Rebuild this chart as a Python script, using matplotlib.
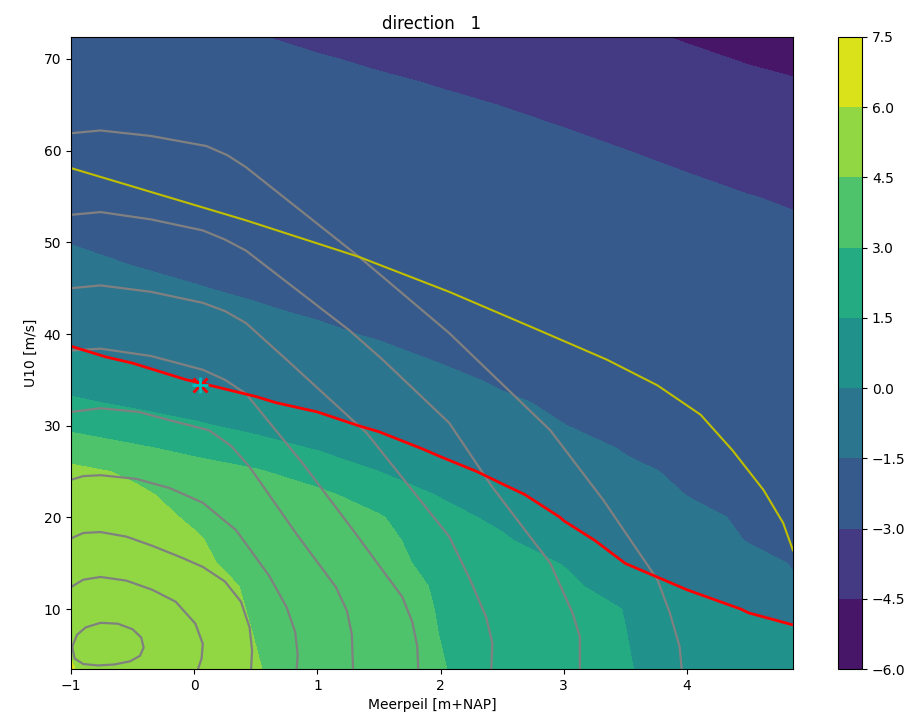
import matplotlib
matplotlib.use('Agg')
import matplotlib.pyplot as plt
import numpy as np

# grid of the filled field
x_nodes = [-1.0, -0.5, 0.0, 0.5, 1.0, 1.5, 2.0, 2.5, 3.0, 3.5, 4.0, 4.5, 4.86]
y_nodes = [3.46, 7.5, 10, 12.5, 15, 17.5, 20, 22.5, 25, 27.5, 30, 32.5, 35, 37.5,
           40, 42.5, 45, 47.5, 50, 52.5, 55, 57.5, 60, 62.5, 65, 67.5, 70, 72.4]
z_rows = [
    [6.03, 5.54, 5.04, 4.55, 4.05, 3.55, 3.05, 2.55, 2.06, 1.56, 1.10, 0.80, 0.60],
    [5.92, 5.45, 4.97, 4.47, 3.98, 3.47, 2.98, 2.50, 2.00, 1.51, 0.95, 0.50, 0.20],
    [5.80, 5.30, 4.90, 4.42, 3.93, 3.44, 2.95, 2.47, 1.98, 1.47, 0.68, -0.10, -0.45],
    [5.65, 5.15, 4.85, 4.37, 3.88, 3.40, 2.90, 2.37, 1.83, 0.80, -0.13, -0.65, -1.38],
    [5.50, 5.00, 4.70, 4.15, 3.76, 3.30, 2.74, 2.12, 1.44, -0.01, -0.50, -1.12, -1.56],
    [5.30, 4.92, 4.60, 4.00, 3.62, 3.28, 2.51, 1.74, 0.40, -0.40, -0.85, -1.56, -1.64],
    [5.20, 4.88, 4.38, 3.75, 3.47, 3.10, 2.11, 1.09, -0.07, -0.67, -1.28, -1.62, -1.73],
    [5.00, 4.75, 4.05, 3.55, 3.25, 2.45, 1.38, 0.24, -0.42, -1.01, -1.52, -1.70, -1.83],
    [4.85, 4.30, 3.55, 3.12, 2.42, 1.50, 0.40, -0.28, -0.78, -1.34, -1.63, -1.80, -1.92],
    [3.77, 3.21, 2.70, 2.11, 1.41, 0.50, -0.22, -0.65, -1.13, -1.56, -1.73, -1.90, -2.01],
    [2.69, 2.21, 1.70, 1.11, 0.36, -0.18, -0.59, -1.02, -1.49, -1.67, -1.84, -2.00, -2.10],
    [1.73, 1.27, 0.77, 0.12, -0.24, -0.57, -0.97, -1.40, -1.61, -1.78, -1.94, -2.09, -2.20],
    [0.94, 0.43, -0.06, -0.32, -0.62, -0.95, -1.34, -1.59, -1.73, -1.89, -2.05, -2.19, -2.29],
    [0.21, -0.16, -0.41, -0.69, -1.00, -1.33, -1.57, -1.70, -1.84, -2.00, -2.15, -2.29, -2.38],
    [-0.24, -0.50, -0.76, -1.06, -1.38, -1.57, -1.69, -1.82, -1.96, -2.11, -2.25, -2.39, -2.47],
    [-0.57, -0.84, -1.12, -1.43, -1.58, -1.69, -1.81, -1.94, -2.07, -2.22, -2.36, -2.49, -2.57],
    [-0.90, -1.19, -1.47, -1.60, -1.71, -1.81, -1.93, -2.06, -2.19, -2.33, -2.46, -2.58, -2.66],
    [-1.23, -1.51, -1.62, -1.73, -1.83, -1.94, -2.05, -2.18, -2.30, -2.44, -2.57, -2.68, -2.75],
    [-1.53, -1.64, -1.74, -1.85, -1.96, -2.06, -2.17, -2.29, -2.42, -2.55, -2.67, -2.78, -2.84],
    [-1.66, -1.77, -1.87, -1.98, -2.08, -2.19, -2.29, -2.41, -2.53, -2.66, -2.78, -2.88, -2.94],
    [-1.79, -1.90, -2.00, -2.10, -2.20, -2.31, -2.41, -2.53, -2.65, -2.77, -2.88, -2.98, -3.09],
    [-1.92, -2.03, -2.12, -2.23, -2.33, -2.43, -2.54, -2.65, -2.76, -2.88, -2.99, -3.22, -3.36],
    [-2.05, -2.15, -2.25, -2.35, -2.45, -2.55, -2.66, -2.77, -2.88, -2.99, -3.24, -3.49, -3.63],
    [-2.18, -2.28, -2.38, -2.48, -2.57, -2.67, -2.78, -2.89, -3.00, -3.25, -3.51, -3.76, -3.90],
    [-2.31, -2.41, -2.50, -2.60, -2.70, -2.79, -2.90, -3.01, -3.26, -3.52, -3.78, -4.03, -4.17],
    [-2.44, -2.54, -2.63, -2.73, -2.82, -2.92, -3.04, -3.28, -3.53, -3.79, -4.05, -4.30, -4.44],
    [-2.57, -2.67, -2.76, -2.85, -2.95, -3.09, -3.31, -3.55, -3.80, -4.06, -4.32, -4.57, -4.71],
    [-2.70, -2.79, -2.88, -2.97, -3.14, -3.35, -3.57, -3.81, -4.06, -4.32, -4.58, -4.83, -4.97],
]
levels = [-6.0, -4.5, -3.0, -1.5, 0.0, 1.5, 3.0, 4.5, 6.0, 7.5]

# grijze lijnen (kansdichtheid), van binnen naar buiten
rings = [
    ([-0.99, -0.95, -0.88, -0.76, -0.62, -0.50, -0.43, -0.41, -0.44, -0.52, -0.65, -0.78, -0.90, -0.97, -0.99],
     [5.9, 7.2, 8.0, 8.5, 8.4, 7.8, 6.9, 5.8, 4.9, 4.3, 3.95, 3.85, 4.0, 4.6, 5.9]),
    ([-1.0, -0.90, -0.76, -0.55, -0.34, -0.15, 0.01, 0.07, 0.06, 0.02],
     [12.4, 13.2, 13.5, 13.1, 12.1, 10.8, 8.4, 6.2, 4.6, 3.0]),
    ([-1.0, -0.90, -0.76, -0.55, -0.34, -0.10, 0.07, 0.25, 0.38, 0.45, 0.47, 0.46],
     [17.7, 18.3, 18.4, 17.9, 16.9, 15.6, 14.6, 13.0, 10.8, 8.0, 5.5, 3.0]),
    ([-1.0, -0.90, -0.76, -0.47, -0.20, 0.07, 0.34, 0.61, 0.75, 0.82, 0.84, 0.83],
     [24.1, 24.5, 24.6, 24.2, 23.2, 21.6, 18.6, 13.6, 10.2, 7.5, 5.0, 3.0]),
    ([-1.0, -0.76, -0.45, -0.20, 0.12, 0.30, 0.45, 0.83, 1.15, 1.24, 1.28, 1.29],
     [31.5, 31.9, 31.5, 30.6, 29.5, 27.8, 25.5, 18.2, 12.4, 9.8, 7.2, 3.0]),
    ([-1.0, -0.76, -0.35, 0.07, 0.25, 0.42, 0.88, 1.29, 1.69, 1.77, 1.81, 1.82],
     [38.2, 38.4, 37.6, 36.1, 35.0, 33.5, 25.9, 18.6, 11.3, 8.6, 6.0, 3.0]),
    ([-1.0, -0.76, -0.35, 0.07, 0.25, 0.42, 0.75, 1.40, 2.07, 2.24, 2.37, 2.42, 2.41],
     [45.0, 45.3, 44.6, 43.4, 42.5, 41.2, 37.2, 29.2, 17.9, 13.2, 9.1, 6.3, 3.0]),
    ([-1.0, -0.76, -0.35, 0.07, 0.25, 0.42, 1.26, 1.53, 2.07, 2.42, 2.89, 3.07, 3.13, 3.13],
     [53.0, 53.3, 52.5, 51.3, 50.3, 49.1, 40.4, 37.2, 30.3, 23.3, 15.0, 9.6, 7.0, 3.0]),
    ([-1.0, -0.76, -0.35, 0.10, 0.27, 0.42, 1.34, 2.07, 2.89, 3.32, 3.76, 3.86, 3.94, 3.96],
     [61.9, 62.2, 61.6, 60.5, 59.5, 58.2, 48.4, 40.1, 29.5, 21.9, 13.2, 9.6, 5.9, 3.0]),
]

yellow_x = [-1.0, 0.42, 1.34, 2.07, 2.80, 3.35, 3.76, 4.11, 4.37, 4.62, 4.78, 4.86]
yellow_y = [58.1, 52.4, 48.4, 44.6, 40.4, 37.2, 34.4, 31.2, 27.3, 23.0, 19.4, 16.4]

point_x = 0.05
point_y = 34.4

fig = plt.figure(figsize=(9.24, 7.22), dpi=100)
ax = fig.add_axes([0.0768, 0.0734, 0.7814, 0.8754])

Z = np.array(z_rows)
cf = ax.contourf(x_nodes, y_nodes, Z, levels=levels, cmap='viridis')
for rx, ry in rings:
    ax.plot(rx, ry, color='gray', linewidth=1.6)
ax.contour(x_nodes, y_nodes, Z, levels=[0.0], colors='r', linewidths=2)
ax.plot(yellow_x, yellow_y, color='y', linewidth=1.5)
ax.plot(point_x, point_y, 'rx', markersize=10, markeredgewidth=2)
ax.plot(point_x, point_y, 'c+', markersize=12, markeredgewidth=2)

ax.set_xlim(-1.0, 4.86)
ax.set_ylim(3.46, 72.4)
ax.set_xlabel('Meerpeil [m+NAP]')
ax.set_ylabel('U10 [m/s]')
ax.set_title('direction   1')

cax = fig.add_axes([0.907, 0.0734, 0.026, 0.8754])
fig.colorbar(cf, cax=cax)

fig.savefig('out.png', dpi=100)
